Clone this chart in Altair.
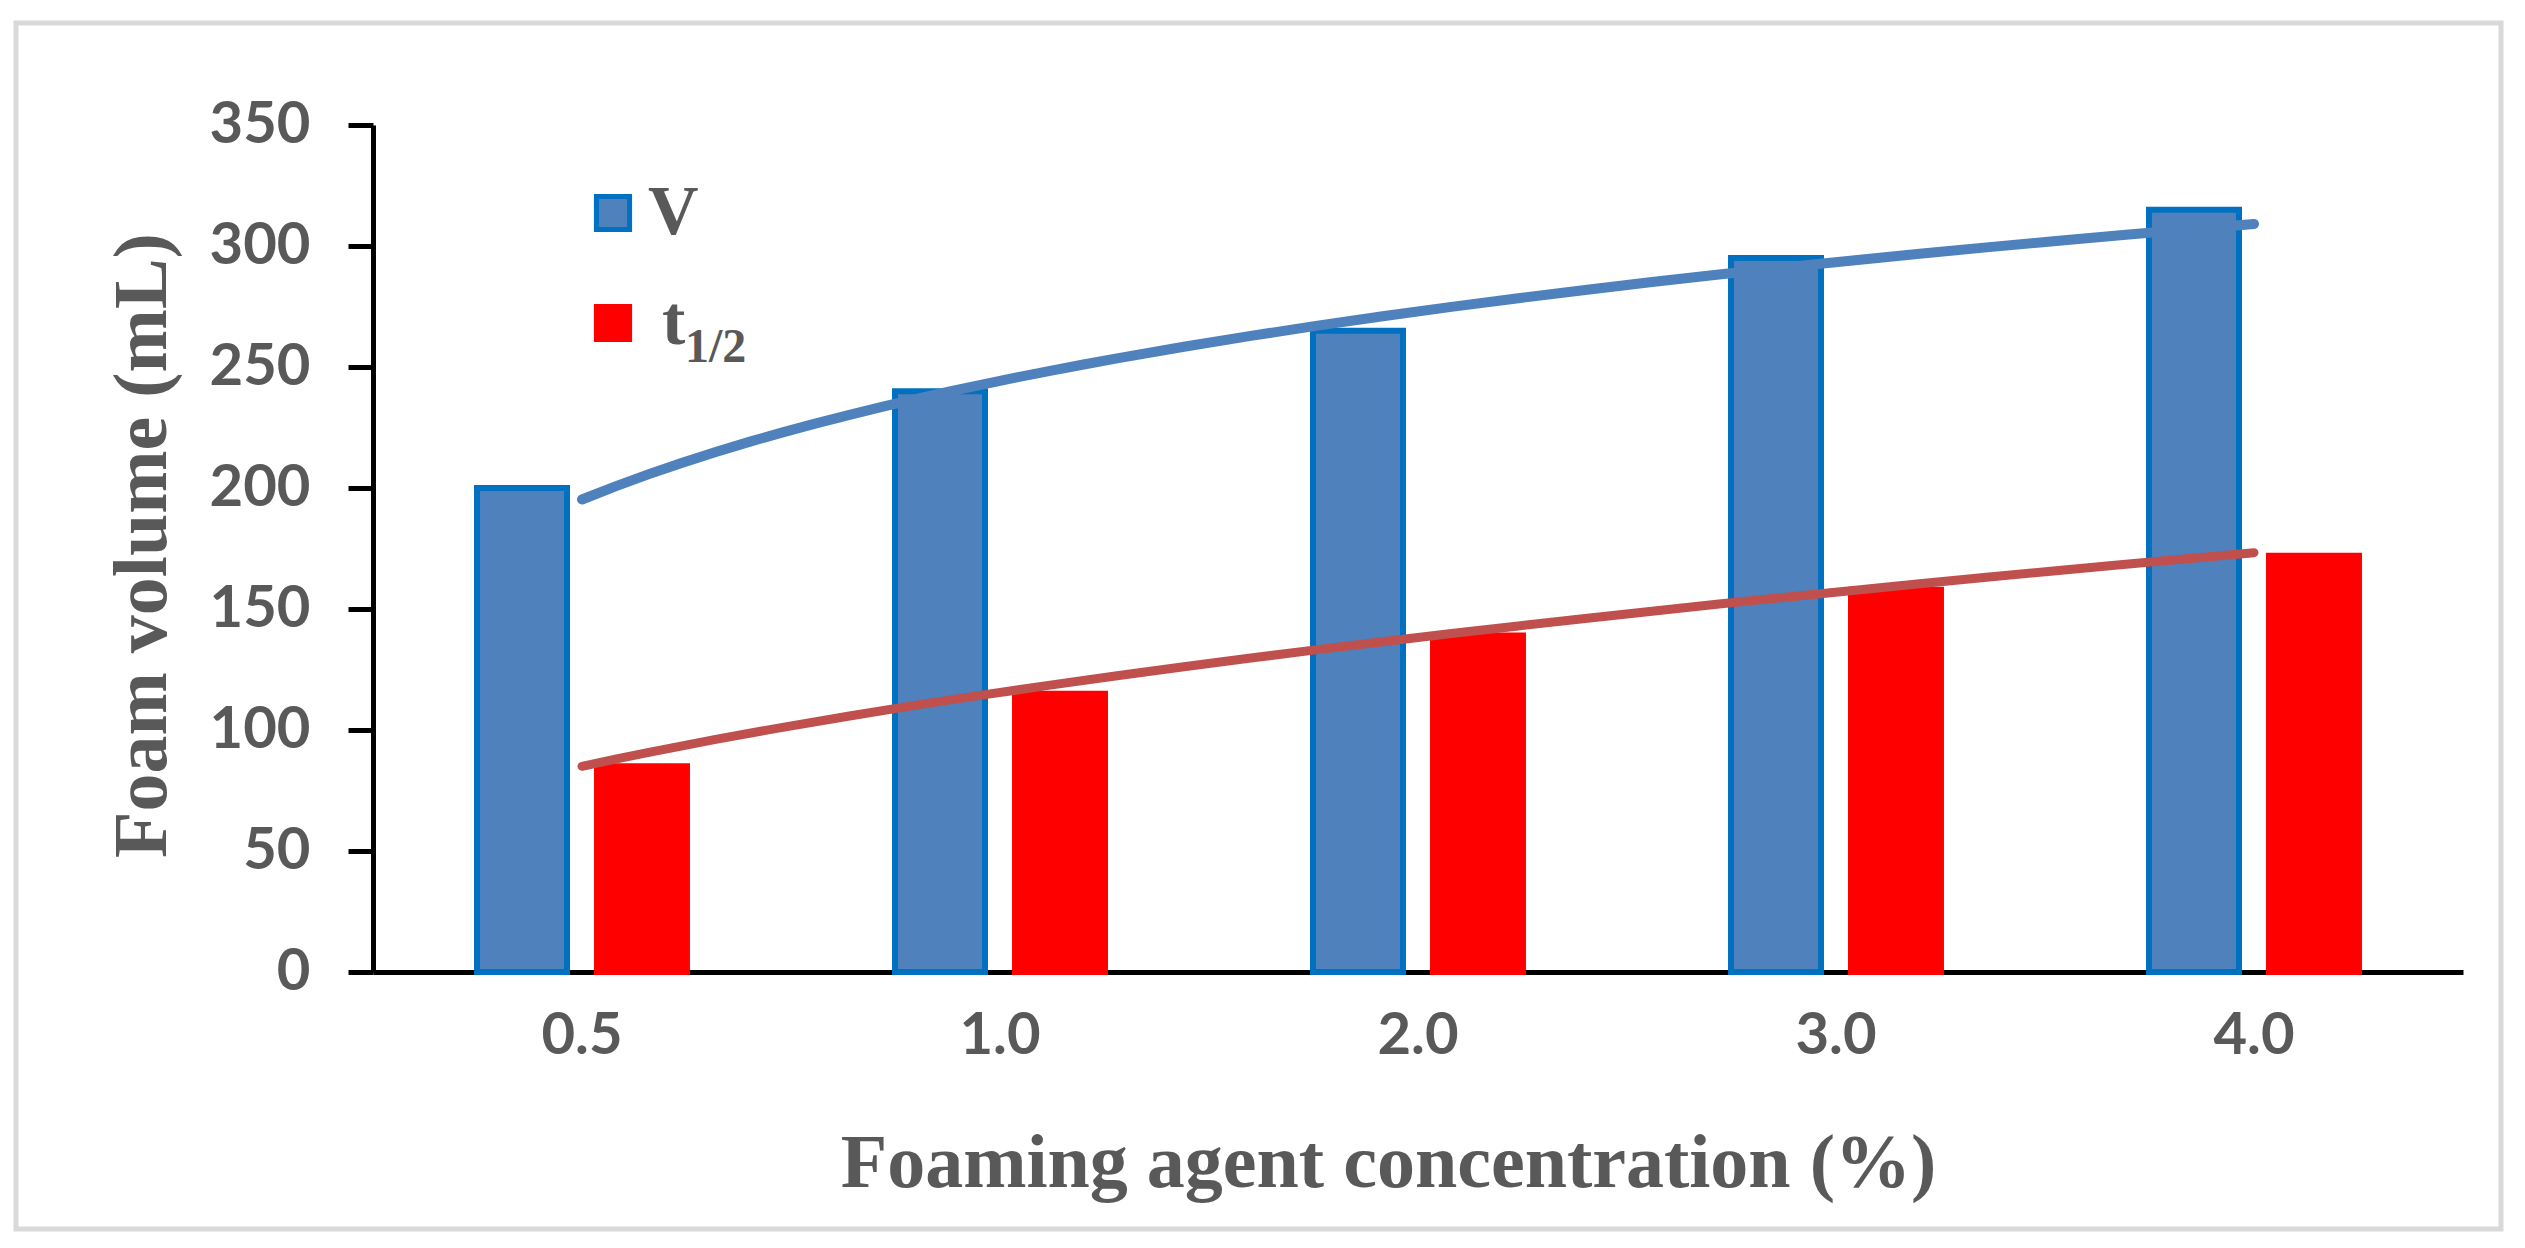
import altair as alt
import pandas as pd

# Foam volume V and half-life t1/2 vs foaming agent concentration
conc = ["0.5", "1.0", "2.0", "3.0", "4.0"]
foam_volume = [200, 240, 265, 295, 315]
half_life = [85, 115, 139, 158, 172]
series_names = ["V", "t1/2"]

BLUE = "#4F81BD"
BLUE_EDGE = "#0070C0"
RED = "#FF0000"
RED_TREND = "#C0504D"
TEXT = "#595959"
SANS = "Lato"
SERIF = "Liberation Serif"

wide = pd.DataFrame({"conc": conc, "V": foam_volume, "t1/2": half_life})
wide["i"] = range(1, len(conc) + 1)
long = wide.melt(["conc", "i"], var_name="series", value_name="value")

y_enc = alt.Y(
    "value:Q",
    scale=alt.Scale(domain=[0, 350], nice=False),
    axis=alt.Axis(
        values=list(range(0, 351, 50)), grid=False,
        domainColor="black", domainWidth=5, tickColor="black", tickWidth=5, tickSize=25,
        labelFont=SANS, labelFontWeight="bold", labelFontSize=58, labelColor=TEXT, labelPadding=38,
        title="Foam volume (mL)", titleFont=SERIF, titleFontWeight="bold", titleFontSize=76,
        titleColor=TEXT, titleX=-231, titleY=420, titleAngle=-90, titleAlign="center",
        titleBaseline="middle",
    ),
)

# the t1/2 entry gets its "t" and subscript "1/2" as separate texts
legend = alt.Legend(
    title=None, orient="none", legendX=205, legendY=53, padding=0,
    symbolType="square", symbolSize=1100, symbolStrokeWidth=5,
    labelFont=SERIF, labelFontWeight="bold", labelFontSize=70, labelColor=TEXT,
    labelOffset=0, rowPadding=40,
    labelExpr="datum.label == 't1/2' ? '' : datum.label",
)

bars = alt.Chart(long).mark_bar(strokeWidth=6, strokeJoin="miter").encode(
    x=alt.X(
        "conc:N", sort=conc,
        scale=alt.Scale(paddingInner=0, paddingOuter=0),
        axis=alt.Axis(
            labelAngle=0, ticks=False, domainColor="black", domainWidth=5,
            labelFont=SANS, labelFontWeight="bold", labelFontSize=58, labelColor=TEXT,
            labelPadding=35,
            title="Foaming agent concentration (%)", titleFont=SERIF, titleFontWeight="bold",
            titleFontSize=76, titleColor=TEXT, titleX=1015, titleY=191, titleBaseline="middle",
        ),
    ),
    xOffset=alt.XOffset("series:N", sort=series_names,
                        scale=alt.Scale(paddingInner=0.25, paddingOuter=0.867)),
    y=y_enc,
    color=alt.Color("series:N", scale=alt.Scale(domain=series_names, range=[BLUE, RED]),
                    legend=legend),
    stroke=alt.Stroke("series:N", scale=alt.Scale(domain=series_names, range=[BLUE_EDGE, RED]),
                      legend=legend),
)

x_trend = alt.X("i:Q", scale=alt.Scale(domain=[0.5, len(conc) + 0.5], nice=False, zero=False),
                axis=None)

trend_v = alt.Chart(long).transform_filter("datum.series == 'V'").transform_regression(
    "i", "value", method="log", extent=[1, len(conc)]
).mark_line(color=BLUE, strokeWidth=10, strokeCap="round").encode(x=x_trend, y="value:Q")

trend_t = alt.Chart(long).transform_filter("datum.series == 't1/2'").transform_regression(
    "i", "value", method="pow", extent=[1, len(conc)]
).mark_line(color=RED_TREND, strokeWidth=9, strokeCap="round").encode(x=x_trend, y="value:Q")

t_main = alt.Chart(pd.DataFrame({"s": ["t"]})).mark_text(
    font=SERIF, fontWeight="bold", fontSize=70, color=TEXT, align="left", baseline="alphabetic"
).encode(x=alt.value(289), y=alt.value(219), text="s:N")

t_sub = alt.Chart(pd.DataFrame({"s": ["1/2"]})).mark_text(
    font=SERIF, fontWeight="bold", fontSize=48, color=TEXT, align="left", baseline="alphabetic"
).encode(x=alt.value(312), y=alt.value(237), text="s:N")

frame = alt.Chart(pd.DataFrame({"f": [0]})).mark_rect(
    fillOpacity=0, stroke="#D9D9D9", strokeWidth=5
).encode(x=alt.value(-357), x2=alt.value(2128), y=alt.value(-102), y2=alt.value(1104))

chart = alt.layer(frame, bars, trend_v, trend_t, t_main, t_sub).resolve_scale(
    x="independent"
).properties(
    width=2090, height=847,
    autosize=alt.AutoSizeParams(type="none"),
    padding={"left": 365, "top": 117, "right": 50, "bottom": 260},
    background="white",
).configure_view(stroke=None)

chart.save("out.html", embed_options={"renderer": "svg", "actions": False})
